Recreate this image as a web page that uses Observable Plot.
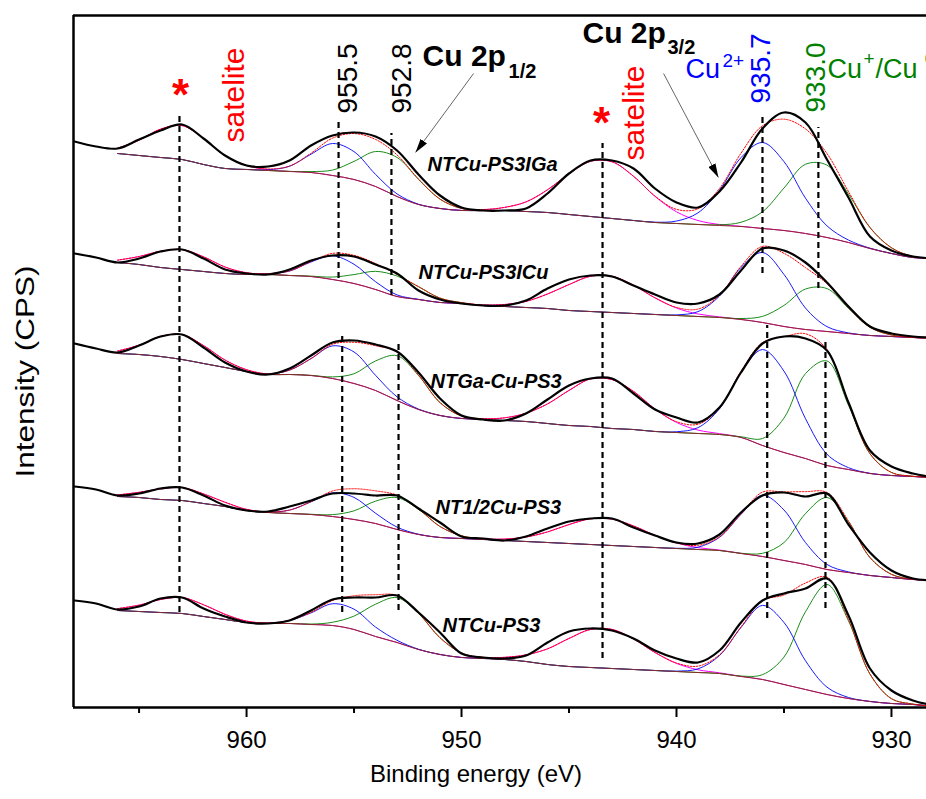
<!DOCTYPE html>
<html><head><meta charset="utf-8">
<script src="https://cdn.jsdelivr.net/npm/d3@7"></script>
<script src="https://cdn.jsdelivr.net/npm/@observablehq/plot@0.6"></script>
<style>html,body{margin:0;padding:0;background:#fff;overflow:hidden}#chart svg{display:block}</style>
</head><body><div id="chart"></div>
<script>
// ---------- data ----------
// binding energies (eV) of the raw spectra
const energies = [968,967,966,965,964,963,962,961,960,959,958,957,956,955,954,953,952,951,950,949,948,947,946,945,944,943,942,941,940,939,938,937,936,935,934,933,932,931,930,929,928];
// binding energies of the fitted background / components
const bgEnergies = [966,965,964,963,962,961,960,959,958,957,956,955,954,953,952,951,950,949,948,947,946,945,944,943,942,941,940,939,938,937,936,935,934,933,932,931,930,929,928];

const sampleNames = ["NTCu-PS3IGa", "NTCu-PS3ICu", "NTGa-Cu-PS3", "NT1/2Cu-PS3", "NTCu-PS3"];

// raw intensity (a.u., stacked with offsets)
const raw1 = [566,561,559,568,577,583,569,552,542,541,547,562,572,575,571,557,533,512,500,497,497,499,514,534,547,547,539,519,505,500,516,545,579,595,585,548,510,471,457,451,449];
const raw2 = [454,450,445,449,456,458,449,438,434,433,438,447,452,451,443,434,417,408,404,402,402,407,419,428,432,431,422,413,405,404,413,437,459,457,445,425,401,381,374,371,370];
const raw3 = [364,359,355,362,371,373,360,345,336,333,339,352,365,367,363,356,335,309,292,288,287,294,308,322,329,329,314,298,290,285,300,335,364,371,369,357,305,257,241,234,230];
const raw4 = [221,218,212,214,219,220,212,202,197,196,201,207,214,214,212,212,199,185,171,169,167,171,179,186,189,189,180,172,165,164,173,195,212,215,211,214,183,155,137,129,127];
const raw5 = [107,104,98,101,109,110,99,91,85,84,87,97,108,110,110,112,95,75,54,50,49,52,65,76,79,77,69,57,49,45,57,85,107,114,119,129,92,39,17,7,2];

// Shirley-type background
const bg1 = [554,552,550,548,543,539,538,537,536,535,532,528,521,511,503,499,497,497,497,496,495,493,491,489,487,485,484,483,482,481,479,477,474,470,465,459,454,450,449];
const bg2 = [445,443,440,438,436,434,433,433,432,431,428,424,418,411,408,405,404,402,401,400,399,397,396,395,394,393,392,391,390,388,385,381,378,376,374,372,371,370,369];
const bg3 = [354,353,351,348,344,340,336,333,333,332,329,324,317,307,298,292,289,288,287,286,284,282,281,279,278,276,275,274,273,270,262,255,249,242,238,234,232,231,230];
const bg4 = [211,210,208,207,204,201,197,195,194,193,191,188,184,178,173,170,169,168,167,166,165,164,163,162,161,160,159,158,157,154,151,147,143,138,135,132,130,128,127];
const bg5 = [97,96,95,94,91,88,85,84,84,83,82,78,71,65,58,53,50,49,48,46,43,41,40,39,38,37,36,35,34,31,28,23,18,13,9,6,4,3,1];

// fitted peaks: [centre eV, height, sigma eV]
const sat1 = [[963.1,34,1.5],[943.4,58,1.9]],  cu2p1 = [[955.7,33,1.2],[936.0,86,1.5]],   cu1p1 = [[953.3,40,1.35],[933.4,75,1.5]];
const sat2 = [[963.1,20,1.4],[943.4,37,1.9]],  cu2p2 = [[955.8,24,1.2],[936.0,70,1.3]],   cu1p2 = [[953.3,21,1.3],[933.4,45,1.3]];
const sat3 = [[963.1,25,1.35],[943.4,50,1.9]], cu2p3 = [[955.55,35,1.2],[935.8,97,1.35]], cu1p3 = [[952.9,45,1.2],[933.2,106,1.2]];
const sat4 = [[963.1,13,1.4],[943.4,27,1.9]],  cu2p4 = [[955.6,25,1.2],[935.8,62,1.25]],  cu1p4 = [[952.9,32,1.3],[933.0,72,1.2]];
const sat5 = [[963.1,16,1.4],[943.4,40,1.9]],  cu2p5 = [[955.6,23,1.2],[935.8,75,1.3]],   cu1p5 = [[952.9,45,1.35],[933.0,110,1.2]];

// dashed guide lines: energy, intensity from, intensity to
const guideE    = [963.12, 955.72, 953.26, 955.55, 952.93, 943.44, 936.0, 933.4, 935.78, 933.07];
const guideFrom = [95, 429, 412, 95, 97, 49, 434, 419, 89, 99];
const guideTo   = [594, 585, 574, 374, 367, 564, 591, 580, 382, 369];

const majorTicks = [960, 950, 940, 930];
const minorTicks = [965, 955, 945, 935];

// ---------- build tables ----------
const raws = [raw1, raw2, raw3, raw4, raw5];
const bgs = [bg1, bg2, bg3, bg4, bg5];
const sats = [sat1, sat2, sat3, sat4, sat5];
const cu2s = [cu2p1, cu2p2, cu2p3, cu2p4, cu2p5];
const cu1s = [cu1p1, cu1p2, cu1p3, cu1p4, cu1p5];

const gauss = (E, [c, h, s]) => h * Math.exp(-((E - c) ** 2) / (2 * s * s));

const rawRows = [], fitRows = [];
sampleNames.forEach((name, i) => {
  raws[i].forEach((v, j) => rawRows.push({sample: name, E: energies[j], I: v}));
  bgs[i].forEach((b, j) => {
    const E = bgEnergies[j];
    const s = d3.sum(sats[i], p => gauss(E, p));
    const c2 = d3.sum(cu2s[i], p => gauss(E, p));
    const c1 = d3.sum(cu1s[i], p => gauss(E, p));
    fitRows.push({sample: name, E, bg: b, sat: b + s, cu2: b + c2, cu1: b + c1, env: b + s + c2 + c1});
  });
});
const guides = guideE.map((E, i) => ({E, lo: guideFrom[i], hi: guideTo[i]}));

// annotation text (positions in energy / intensity units)
const sampleLabels = [
  {t: "NTCu-PS3IGa", E: 951.58, I: 537},
  {t: "NTCu-PS3ICu", E: 952.0, I: 429},
  {t: "NTGa-Cu-PS3", E: 951.44, I: 320},
  {t: "NT1/2Cu-PS3", E: 951.21, I: 194},
  {t: "NTCu-PS3", E: 950.88, I: 76}
];
const satLabels = [
  {t: "satelite", E: 960.14, I: 565},
  {t: "satelite", E: 941.53, I: 547}
];
const peakLabels = [
  {t: "955.5", E: 954.88, I: 594, c: "#000000"},
  {t: "952.8", E: 952.37, I: 594, c: "#000000"},
  {t: "935.7", E: 935.63, I: 604, c: "#0000ff"},
  {t: "933.0", E: 933.07, I: 595, c: "#008000"}
];
const stars = [{E: 963.07, I: 598}, {E: 943.49, I: 570}];
const lineTitles = [
  {t: "Cu 2p", E: 951.81, I: 642},
  {t: "Cu 2p", E: 944.37, I: 665}
];
const lineSubs = [
  {t: "1/2", E: 947.81, I: 630},
  {t: "3/2", E: 940.42, I: 654}
];
const stateLabels = [
  {t: "Cu", E: 939.58, I: 630, c: "#0000ff"},
  {t: "Cu", E: 932.98, I: 630, c: "#008000"},
  {t: "/Cu", E: 930.74, I: 630, c: "#008000"}
];
const stateSups = [
  {t: "2+", E: 937.86, I: 641, c: "#0000ff"},
  {t: "+", E: 931.3, I: 643, c: "#008000"},
  {t: "0", E: 928.45, I: 643, c: "#008000"}
];
const arrows = [
  {E1: 949.44, I1: 634, E2: 952.14, I2: 555},
  {E1: 940.60, I1: 634, E2: 938.05, I2: 530}
];

const FONT = "'Liberation Sans', Arial, Helvetica, sans-serif";
const curve = "catmull-rom";

const plot = Plot.plot({
  width: 926, height: 799,
  marginLeft: 73, marginRight: 0, marginTop: 15, marginBottom: 92,
  style: {fontFamily: FONT, fontSize: "24px", background: "#fff", color: "#000"},
  x: {domain: [968.05, 928.37], label: null},
  y: {domain: [0, 692], axis: null, label: null},
  color: {type: "identity"},
  marks: [
    Plot.line(fitRows, {x: "E", y: "sat", z: "sample", stroke: "#ff00ff", strokeWidth: 1, curve, clip: true}),
    Plot.line(fitRows, {x: "E", y: "cu1", z: "sample", stroke: "#008000", strokeWidth: 0.9, curve, clip: true}),
    Plot.line(fitRows, {x: "E", y: "cu2", z: "sample", stroke: "#0000ff", strokeWidth: 0.9, curve, clip: true}),
    Plot.line(fitRows, {x: "E", y: "bg", z: "sample", stroke: "#8b2a2a", strokeWidth: 1, curve, clip: true}),
    Plot.line(fitRows, {x: "E", y: "env", z: "sample", stroke: "#ff0000", strokeWidth: 1, strokeDasharray: "1.5,1.5", curve, clip: true}),
    Plot.line(rawRows, {x: "E", y: "I", z: "sample", stroke: "#000", strokeWidth: 2.2, curve, clip: true}),
    Plot.ruleX(guides, {x: "E", y1: "lo", y2: "hi", stroke: "#000", strokeWidth: 2.2, strokeDasharray: "6,4"}),
    Plot.ruleY([0, 692], {stroke: "#000", strokeWidth: 2.5}),
    Plot.ruleX([968.05], {stroke: "#000", strokeWidth: 2.5}),
    Plot.axisX({ticks: majorTicks, tickSize: 10, tickPadding: 13, fontSize: 24, strokeWidth: 2, label: null, tickFormat: d => String(d)}),
    Plot.axisX({ticks: minorTicks, tickSize: 6, strokeWidth: 2, label: null, tickFormat: () => ""}),
    Plot.text(["Binding energy (eV)"], {text: d => d, frameAnchor: "bottom", dx: -24, dy: 74, lineAnchor: "bottom", fontSize: 24}),
    Plot.text(["Intensity (CPS)"], {text: d => d, frameAnchor: "left", dx: -40, dy: 10, rotate: -90, textAnchor: "middle", lineAnchor: "bottom", fontSize: 26}),
    Plot.text(sampleLabels, {x: "E", y: "I", text: "t", textAnchor: "start", lineAnchor: "bottom", fontSize: 20, fontWeight: "bold", fontStyle: "italic"}),
    Plot.text(satLabels, {x: "E", y: "I", text: "t", fill: "#ff0000", rotate: -90, textAnchor: "start", lineAnchor: "bottom", fontSize: 30}),
    Plot.text(peakLabels, {x: "E", y: "I", text: "t", fill: "c", rotate: -90, textAnchor: "start", lineAnchor: "bottom", fontSize: 28}),
    Plot.text(stars, {x: "E", y: "I", text: () => "*", fill: "#ff0000", textAnchor: "middle", lineAnchor: "bottom", fontSize: 44, fontWeight: "bold"}),
    Plot.text(lineTitles, {x: "E", y: "I", text: "t", fill: "#000", fontWeight: "bold", fontSize: 30, textAnchor: "start", lineAnchor: "bottom"}),
    Plot.text(lineSubs, {x: "E", y: "I", text: "t", fill: "#000", fontWeight: "bold", fontSize: 20, textAnchor: "start", lineAnchor: "bottom"}),
    Plot.text(stateLabels, {x: "E", y: "I", text: "t", fill: "c", fontSize: 27, textAnchor: "start", lineAnchor: "bottom"}),
    Plot.text(stateSups, {x: "E", y: "I", text: "t", fill: "c", fontSize: 19, textAnchor: "start", lineAnchor: "bottom"}),
    Plot.link(arrows, {x1: "E1", y1: "I1", x2: "E2", y2: "I2", stroke: "#555", strokeWidth: 0.9})
  ]
});

// filled arrow heads for the pointer links
const svg = d3.select(plot);
const defs = svg.insert("defs", ":first-child");
defs.append("marker").attr("id", "ahead").attr("viewBox", "0 0 14 8")
  .attr("refX", 14).attr("refY", 4).attr("markerWidth", 14).attr("markerHeight", 8)
  .attr("markerUnits", "userSpaceOnUse").attr("orient", "auto")
  .append("path").attr("d", "M0,0L14,4L0,8Z").attr("fill", "#000");
svg.selectAll('g[aria-label="link"] path').attr("marker-end", "url(#ahead)");
svg.selectAll("text").each(function () {
  if (this.textContent === "Intensity (CPS)") {
    this.setAttribute("textLength", 212);
    this.setAttribute("lengthAdjust", "spacingAndGlyphs");
  }
});
document.getElementById("chart").appendChild(plot);
</script>
</body></html>
